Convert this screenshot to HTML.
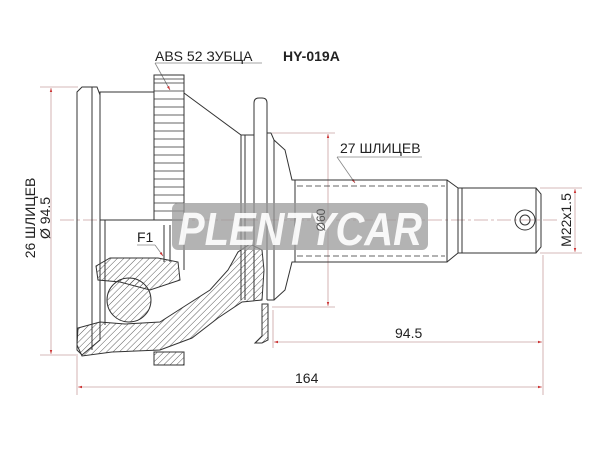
<!DOCTYPE html>
<html><head><meta charset="utf-8"><style>
html,body{margin:0;padding:0;background:#fff;}
svg{display:block;}
text{font-family:"Liberation Sans","DejaVu Sans",sans-serif;}
</style></head><body>
<svg width="600" height="450" viewBox="0 0 600 450" xmlns="http://www.w3.org/2000/svg">
<defs>
<pattern id="h" width="4.5" height="4.5" patternUnits="userSpaceOnUse" patternTransform="rotate(45)">
<line x1="0" y1="0" x2="0" y2="4.5" stroke="#333" stroke-width="0.8"/>
</pattern>
<marker id="a" viewBox="0 0 10 10" refX="10" refY="5" markerWidth="7" markerHeight="5" orient="auto-start-reverse">
<path d="M0,2 L10,5 L0,8 z" fill="#c33"/>
</marker>
</defs>
<g fill="none" stroke="#c9a0a0" stroke-width="0.8">
<line x1="60" y1="220" x2="560" y2="220" stroke-dasharray="14,3,3,3"/>
<line x1="40" y1="87" x2="78" y2="87"/>
<line x1="40" y1="355" x2="78" y2="355"/>
<line x1="51" y1="88" x2="51" y2="354" marker-start="url(#a)" marker-end="url(#a)"/>
<line x1="272" y1="133" x2="335" y2="133"/>
<line x1="272" y1="307" x2="335" y2="307"/>
<line x1="328" y1="134" x2="328" y2="306" marker-start="url(#a)" marker-end="url(#a)"/>
<line x1="540" y1="188" x2="582" y2="188"/>
<line x1="540" y1="253" x2="582" y2="253"/>
<line x1="575" y1="189" x2="575" y2="252" marker-start="url(#a)" marker-end="url(#a)"/>
<line x1="273" y1="310" x2="273" y2="348"/>
<line x1="543" y1="255" x2="543" y2="395"/>
<line x1="274" y1="342" x2="542" y2="342" marker-start="url(#a)" marker-end="url(#a)"/>
<line x1="77" y1="356" x2="77" y2="395"/>
<line x1="78" y1="387" x2="542" y2="387" marker-start="url(#a)" marker-end="url(#a)"/>
<line x1="155" y1="63" x2="262" y2="63" stroke="#888"/>
<line x1="155" y1="63" x2="170" y2="90" stroke="#888" marker-end="url(#a)"/>
<line x1="337" y1="157" x2="422" y2="157" stroke="#888"/>
<line x1="337" y1="157" x2="355" y2="183" stroke="#888" marker-end="url(#a)"/>
<line x1="137" y1="245" x2="155" y2="245" stroke="#888"/>
<line x1="155" y1="245" x2="163" y2="256" stroke="#888" marker-end="url(#a)"/>
</g>
<g fill="none" stroke="#333" stroke-width="1">
<path d="M82,87 L97,87 L100,95 L100,340 L82,355 L77,350 L77,92 Z"/>
<line x1="92" y1="87" x2="92" y2="350"/>
<rect x="100" y="92" width="54" height="128"/>
<line x1="100" y1="220" x2="100" y2="330"/>
<line x1="105" y1="220" x2="105" y2="325"/>
<rect x="154" y="75" width="30" height="145"/>
<g stroke-width="0.8">
<line x1="154" y1="79" x2="184" y2="79"/><line x1="154" y1="83" x2="184" y2="83"/>
<line x1="154" y1="91" x2="184" y2="91"/><line x1="154" y1="99" x2="184" y2="99"/>
<line x1="154" y1="107" x2="184" y2="107"/><line x1="154" y1="115" x2="184" y2="115"/>
<line x1="154" y1="123" x2="184" y2="123"/><line x1="154" y1="131" x2="184" y2="131"/>
<line x1="154" y1="139" x2="184" y2="139"/><line x1="154" y1="147" x2="184" y2="147"/>
<line x1="154" y1="155" x2="184" y2="155"/><line x1="154" y1="163" x2="184" y2="163"/>
<line x1="154" y1="171" x2="184" y2="171"/><line x1="154" y1="179" x2="184" y2="179"/>
<line x1="154" y1="187" x2="184" y2="187"/><line x1="154" y1="195" x2="184" y2="195"/>
<line x1="154" y1="203" x2="184" y2="203"/><line x1="154" y1="211" x2="184" y2="211"/>
</g>
<line x1="184" y1="220" x2="184" y2="270"/>
<line x1="164" y1="225" x2="164" y2="262"/><line x1="170" y1="225" x2="170" y2="262"/>
<path d="M184,93 L241,135 L241,300"/>
<line x1="245" y1="135" x2="245" y2="300"/>
<line x1="241" y1="135" x2="254" y2="135"/>
<path d="M254,300 L254,103 Q254,98 259,98 L262,98 Q267,98 267,103 L267,300"/>
<path d="M267,133 L271,133 L274,140 L274,300 L267,300"/>
<path d="M274,140 L285,150 L292,180 L295,180"/>
<path d="M274,300 L285,290 L292,262 L295,262"/>
<rect x="295" y="180" width="152" height="82"/>
<line x1="297" y1="186" x2="445" y2="186" stroke-dasharray="6,3" stroke-width="0.7"/>
<line x1="297" y1="256" x2="445" y2="256" stroke-dasharray="6,3" stroke-width="0.7"/>
<path d="M447,180 L458,188 L458,253 L447,262"/>
<line x1="462" y1="188" x2="462" y2="253"/>
<path d="M458,188 L536,188 L541,194 L541,247 L536,253 L458,253"/>
<line x1="536" y1="188" x2="536" y2="253"/>
<circle cx="525" cy="220" r="10"/><circle cx="525" cy="220" r="5"/>
</g>
<g stroke="#333" stroke-width="1" fill="url(#h)">
<path d="M78,328 L100,322 L125,324 L160,322 L185,306 L210,290 L228,270 L238,252 L250,244 L262,250 L264,270 L262,300 L242,302 L218,318 L192,338 L160,350 L112,352 L82,356 L77,345 Z"/>
<path d="M96,266 L110,258 L158,258 L178,262 L180,280 L150,290 L120,282 L98,280 Z"/>
<circle cx="129" cy="300" r="22"/>
<rect x="154" y="352" width="30" height="13"/>
<path d="M262,304 L268,304 L268,340 L262,343 L255,343 L262,336 Z"/>
</g>
<rect x="172" y="203" width="256" height="47" rx="6" fill="#9a9a9a" fill-opacity="0.75"/>
<text x="300" y="245" text-anchor="middle" font-size="46" font-weight="bold" font-style="italic" fill="#fff" fill-opacity="0.9" textLength="244" lengthAdjust="spacingAndGlyphs">PLENTYCAR</text>
<g font-size="14" fill="#222">
<text x="155" y="61">ABS 52 ЗУБЦА</text>
<text x="283" y="61" font-weight="bold">HY-019A</text>
<text x="340" y="153">27 ШЛИЦЕВ</text>
<text x="137" y="242">F1</text>
<text x="395" y="338">94.5</text>
<text x="295" y="383">164</text>
<text transform="translate(35,218) rotate(-90)" text-anchor="middle">26 ШЛИЦЕВ</text>
<text transform="translate(50,218) rotate(-90)" text-anchor="middle">Ø 94.5</text>
<text transform="translate(571,220) rotate(-90)" text-anchor="middle">M22x1.5</text>
<text transform="translate(325,220) rotate(-90)" text-anchor="middle" font-size="12" fill="#555">Ø60</text>
</g>
</svg>
</body></html>
